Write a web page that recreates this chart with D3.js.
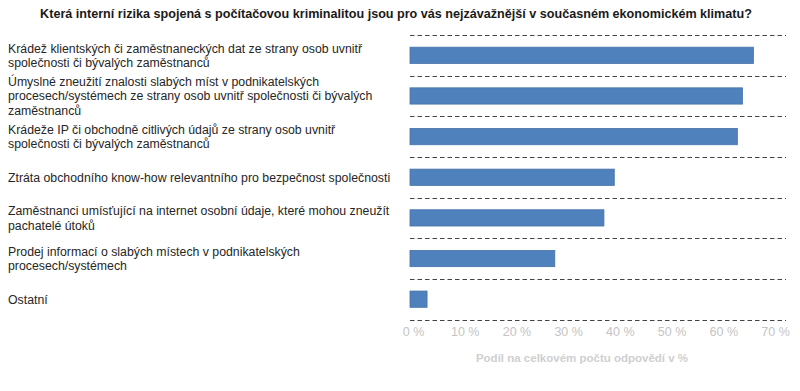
<!DOCTYPE html>
<html>
<head>
<meta charset="utf-8">
<script src="https://cdn.jsdelivr.net/npm/d3@7"></script>
<style>
  html, body { margin: 0; padding: 0; background: #fff; }
  svg { display: block; font-family: Arial, "Liberation Sans", sans-serif; }
</style>
</head>
<body>
<svg id="chart" width="800" height="391"></svg>
<script>
const chartTitle = "Která interní rizika spojená s počítačovou kriminalitou jsou pro vás nejzávažnější v současném ekonomickém klimatu?";
const axisTitle = "Podíl na celkovém počtu odpovědí v %";
const categories = [
  "Krádež klientských či zaměstnaneckých dat ze strany osob uvnitř\nspolečnosti či bývalých zaměstnanců",
  "Úmyslné zneužití znalosti slabých míst v podnikatelských\nprocesech/systémech ze strany osob uvnitř společnosti či bývalých\nzaměstnanců",
  "Krádeže IP či obchodně citlivých údajů ze strany osob uvnitř\nspolečnosti či bývalých zaměstnanců",
  "Ztráta obchodního know-how relevantního pro bezpečnost společnosti",
  "Zaměstnanci umísťující na internet osobní údaje, které mohou zneužít\npachatelé útoků",
  "Prodej informací o slabých místech v podnikatelských\nprocesech/systémech",
  "Ostatní"
];
const values = [66.4, 64.3, 63.3, 39.5, 37.5, 28.0, 3.3];
const tickValues = [0, 10, 20, 30, 40, 50, 60, 70];

const svg = d3.select("#chart");

const x = d3.scaleLinear().domain([0, 70]).range([410, 772]);
const y = d3.scaleBand().domain(categories).range([35, 319.5])
  .paddingInner(0.6).paddingOuter(0.3);
const step = y.step();

// title
svg.append("text")
  .attr("x", 396).attr("y", 18)
  .attr("text-anchor", "middle")
  .attr("font-size", 12.6).attr("font-weight", "bold")
  .attr("fill", "#1a1a1a")
  .text(chartTitle);

// dashed separators
const seps = categories.map(c => y(c) - step * 0.3).concat([y(categories[categories.length - 1]) + y.bandwidth() + step * 0.3]);
svg.append("g").selectAll("line").data(seps).join("line")
  .attr("x1", 410).attr("x2", 786)
  .attr("y1", d => Math.round(d) + 0.5).attr("y2", d => Math.round(d) + 0.5)
  .attr("stroke", "#444").attr("stroke-width", 1)
  .attr("stroke-dasharray", "4.5,3");

// bars
svg.append("g").selectAll("rect").data(categories).join("rect")
  .attr("x", x(0))
  .attr("y", d => y(d))
  .attr("width", (d, i) => x(values[i]) - x(0))
  .attr("height", y.bandwidth())
  .attr("fill", "#4f81bd")
  .attr("stroke", "#4672a8").attr("stroke-width", 0.8);

// category labels
const lh = 14.5;
const lab = svg.append("g");
categories.forEach(c => {
  const lines = c.split("\n");
  const cy = y(c) + y.bandwidth() / 2;
  const t = lab.append("text")
    .attr("x", 8)
    .attr("font-size", 12.3)
    .attr("fill", "#262626");
  lines.forEach((ln, k) => {
    t.append("tspan")
      .attr("x", 8)
      .attr("y", cy + 4.5 + (k - (lines.length - 1) / 2) * lh)
      .text(ln);
  });
});

// x axis
const ax = svg.append("g")
  .attr("transform", "translate(0,321)")
  .call(d3.axisBottom(x).tickValues(tickValues).tickFormat(d => d + " %").tickSize(0).tickPadding(6));
ax.select(".domain").remove();
ax.selectAll("text")
  .attr("dx", 3)
  .attr("font-size", 12.5)
  .attr("font-family", "Arial, 'Liberation Sans', sans-serif")
  .attr("fill", "#c4c4c4");

// axis title
svg.append("text")
  .attr("x", 582).attr("y", 362)
  .attr("text-anchor", "middle")
  .attr("font-size", 11.5).attr("font-weight", "bold")
  .attr("fill", "#cfcfcf")
  .text(axisTitle);
</script>
</body>
</html>
